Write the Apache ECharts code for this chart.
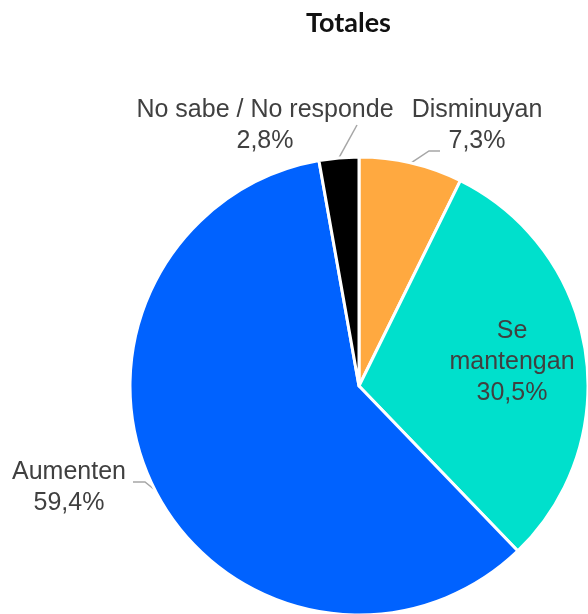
<!DOCTYPE html>
<html>
<head>
<meta charset="utf-8">
<script src="https://cdn.jsdelivr.net/npm/echarts@6/dist/echarts.min.js"></script>
<style>
  html, body { margin: 0; padding: 0; background: #ffffff; }
  #chart { width: 588px; height: 614px; }
</style>
</head>
<body>
<div id="chart"></div>
<script>
// Survey answers, share of respondents (%)
const categories = ['Disminuyan', 'Se mantengan', 'Aumenten', 'No sabe / No responde'];
const values = [7.3, 30.5, 59.4, 2.8];
const labelNames = ['Disminuyan', 'Se\nmantengan', 'Aumenten', 'No sabe / No responde'];
const colors = ['#FFA940', '#00E0CC', '#0062FF', '#000000'];

// Pie geometry
const CX = 359, CY = 386, R = 229;

// Label block centres (px) for each slice
const labelCentres = [[477, 126], [512, 362], [69, 488], [265, 126]];
// Leader line bends after leaving the slice edge (px), null = no leader
const leaderBends = [
  [[429, 151], [440, 151]],
  null,
  [[145, 482], [133, 482]],
  [[357, 125]]
];

const fmt = v => v.toFixed(1).replace('.', ',') + '%';

// Point on the pie rim at the middle of slice i
function rimPoint(i) {
  const total = values.reduce((a, b) => a + b, 0);
  let before = 0;
  for (let k = 0; k < i; k++) before += values[k];
  const frac = (before + values[i] / 2) / total;
  const ang = frac * 2 * Math.PI; // clockwise from 12 o'clock
  return [CX + R * Math.sin(ang), CY - R * Math.cos(ang)];
}

const chart = echarts.init(document.getElementById('chart'));
chart.setOption({
  animation: false,
  title: {
    text: 'Totales',
    left: 301,
    top: 5,
    textStyle: { fontFamily: 'Lato', fontWeight: 'bold', fontSize: 27, color: '#111111' }
  },
  series: [{
    type: 'pie',
    center: [CX, CY],
    radius: R,
    startAngle: 90,
    clockwise: true,
    avoidLabelOverlap: false,
    itemStyle: { borderColor: '#ffffff', borderWidth: 3 },
    label: {
      show: true,
      position: 'outside',
      fontFamily: 'Liberation Sans, Arial, sans-serif',
      fontSize: 25,
      lineHeight: 31,
      color: '#404040',
      formatter: p => labelNames[p.dataIndex] + '\n' + fmt(values[p.dataIndex])
    },
    labelLine: {
      show: true,
      length: 10,
      length2: 10,
      lineStyle: { color: '#A6A6A6', width: 1.5 }
    },
    labelLayout: p => {
      const i = p.dataIndex;
      const out = {
        x: labelCentres[i][0],
        y: labelCentres[i][1],
        align: 'center',
        verticalAlign: 'middle'
      };
      if (leaderBends[i]) out.labelLinePoints = [rimPoint(i)].concat(leaderBends[i]);
      return out;
    },
    data: categories.map((name, i) => ({
      name,
      value: values[i],
      itemStyle: { color: colors[i] },
      label: i === 1 ? { position: 'inside' } : undefined,
      labelLine: i === 1 ? { show: false } : undefined
    }))
  }]
});
</script>
</body>
</html>
